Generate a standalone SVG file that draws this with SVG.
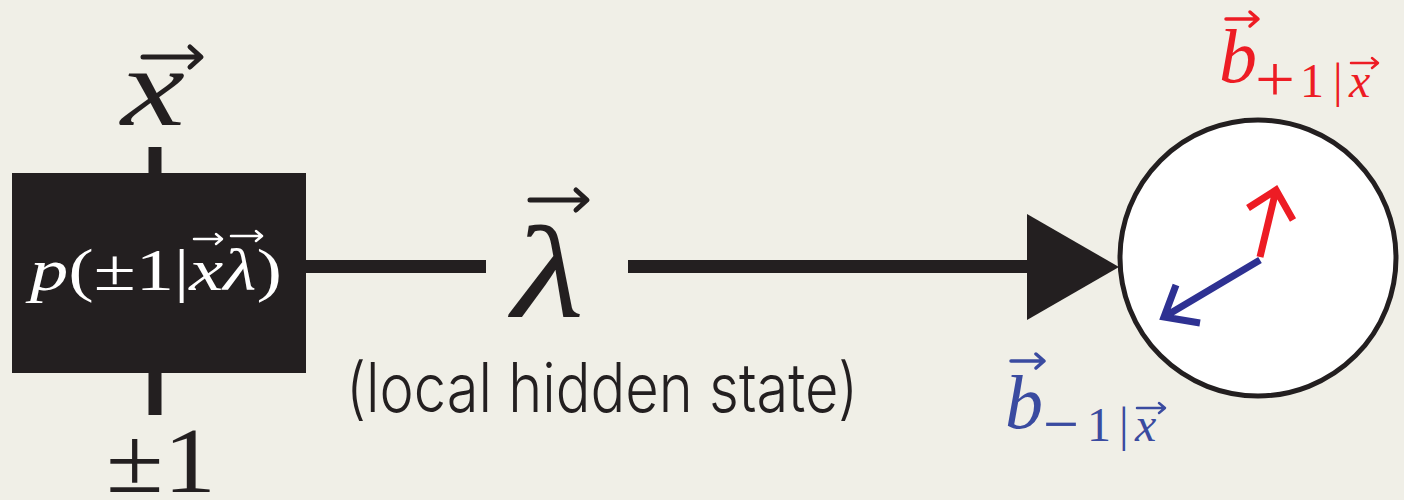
<svg xmlns="http://www.w3.org/2000/svg" width="1404" height="500" viewBox="0 0 1404 500">
  <style>
    .math { font-family: "Liberation Serif", "DejaVu Serif", serif; }
    .it { font-style: italic; }
    .vec { fill: none; stroke-linecap: round; stroke-linejoin: round; }
    .wire { stroke: #231F20; stroke-width: 13; fill: none; }
    .sans { font-family: Inter, "Liberation Sans", sans-serif; font-weight: 300; }
  </style>
  <rect x="0" y="0" width="1404" height="500" fill="#F0EFE7"/>

  <g id="connectors">
    <line class="wire" x1="155" y1="147" x2="155" y2="175"/>
    <line class="wire" x1="155" y1="371" x2="155" y2="415"/>
    <line class="wire" x1="304" y1="266.5" x2="486" y2="266.5"/>
    <line class="wire" x1="628" y1="266.5" x2="1030" y2="266.5"/>
    <polygon points="1027,214 1119,267 1027,320" fill="#231F20"/>
  </g>

  <g id="input-label">
    <text class="math it" x="121" y="125" font-size="112" textLength="64" lengthAdjust="spacingAndGlyphs" fill="#231F20">x</text>
    <path class="vec" d="M143,57 H200 M190,47 L201,57 L190,67" stroke="#231F20" stroke-width="5"/>
  </g>

  <g id="box">
    <rect x="12" y="173" width="294" height="200" fill="#231F20"/>
    <text class="math" x="30" y="290" font-size="60" fill="#FFFFFF" textLength="252" lengthAdjust="spacingAndGlyphs"><tspan class="it">p</tspan>(±1|<tspan class="it">x</tspan><tspan class="it">λ</tspan>)</text>
    <path class="vec" d="M194,239 H221 M216,234 L222,239 L216,244" stroke="#FFFFFF" stroke-width="2.5"/>
    <path class="vec" d="M231,236 H261 M256,231 L262,236 L256,241" stroke="#FFFFFF" stroke-width="2.5"/>
  </g>

  <g id="output-label">
    <text class="math" x="106" y="492" font-size="94" textLength="110" lengthAdjust="spacingAndGlyphs" fill="#231F20">±1</text>
  </g>

  <g id="lambda">
    <text class="math it" x="512" y="317" font-size="132" textLength="72" lengthAdjust="spacingAndGlyphs" fill="#231F20">λ</text>
    <path class="vec" d="M530,200 H586 M576,190 L587,200 L576,210" stroke="#231F20" stroke-width="5"/>
    <text class="sans" x="346" y="412" font-size="68" textLength="512" lengthAdjust="spacingAndGlyphs" fill="#231F20">(local hidden state)</text>
  </g>

  <g id="sphere">
    <circle cx="1258" cy="258" r="138" fill="#FFFFFF" stroke="#231F20" stroke-width="5"/>
    <path d="M1260,257 L1276,190 M1248,208 L1276,190 L1293,220" fill="none" stroke="#ED1C24" stroke-width="7"/>
    <path d="M1260,260 L1164,317 M1176,285 L1164,317 L1200,323" fill="none" stroke="#2E3192" stroke-width="7"/>
  </g>

  <g id="label-plus">
    <text class="math it" x="1219" y="82" font-size="76" fill="#ED1C24">b</text>
    <path class="vec" d="M1226,19 H1257 M1250,12 L1258,19 L1250,26" stroke="#ED1C24" stroke-width="3.5"/>
    <text class="math" x="1255" y="101" font-size="66" textLength="40" lengthAdjust="spacingAndGlyphs" fill="#ED1C24">+</text>
    <text class="math" y="97" font-size="48" fill="#ED1C24"><tspan x="1300">1</tspan><tspan x="1333">|</tspan><tspan x="1349" class="it">x</tspan></text>
    <path class="vec" d="M1351,63 H1377 M1372,58 L1378,63 L1372,68" stroke="#ED1C24" stroke-width="2.5"/>
  </g>

  <g id="label-minus">
    <text class="math it" x="1005" y="428" font-size="76" fill="#3A4BA0">b</text>
    <path class="vec" d="M1011,361 H1043 M1036,354 L1044,361 L1036,368" stroke="#3A4BA0" stroke-width="3.5"/>
    <text class="math" x="1043" y="446" font-size="66" textLength="36" lengthAdjust="spacingAndGlyphs" fill="#3A4BA0">−</text>
    <text class="math" y="441" font-size="48" fill="#3A4BA0"><tspan x="1087">1</tspan><tspan x="1119">|</tspan><tspan x="1135" class="it">x</tspan></text>
    <path class="vec" d="M1137,408 H1164 M1159,403 L1165,408 L1159,413" stroke="#3A4BA0" stroke-width="2.5"/>
  </g>
</svg>
